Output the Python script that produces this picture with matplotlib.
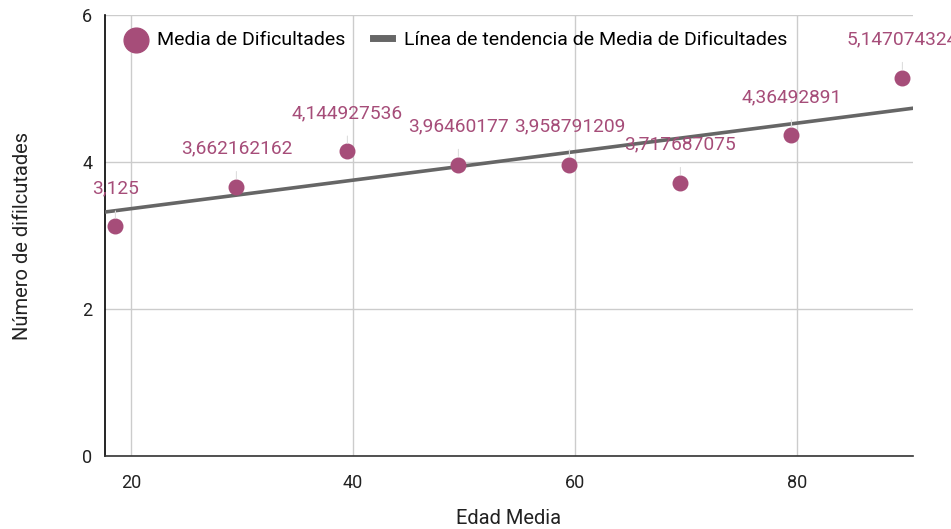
import matplotlib.pyplot as plt
import numpy as np

plt.rcParams["font.family"] = ["Roboto", "DejaVu Sans"]

edad_media = [18.6, 29.5, 39.5, 49.5, 59.5, 69.5, 79.5, 89.5]
media_dificultades = [3.125, 3.662162162, 4.144927536, 3.96460177,
                      3.958791209, 3.717687075, 4.36492891, 5.147074324]

# trend line
trend_slope = 0.0194
trend_intercept = 2.977

x_lim = (17.66, 90.45)
y_lim = (0, 6)
x_ticks = [20, 40, 60, 80]
y_ticks = [0, 2, 4, 6]

POINT_COLOR = "#a64d79"
TREND_COLOR = "#666666"

fig = plt.figure(figsize=(9.51, 5.29), dpi=100, facecolor="white")
ax = fig.add_axes([0.1104, 0.138, 0.8496, 0.8336])

ax.set_xlim(*x_lim)
ax.set_ylim(*y_lim)
ax.set_xticks(x_ticks)
ax.set_yticks(y_ticks)
ax.grid(True, color="#cccccc", linewidth=1)
ax.set_axisbelow(True)
for side in ("top", "right"):
    ax.spines[side].set_visible(False)
ax.spines["left"].set_color("#000000")
ax.spines["left"].set_linewidth(1.2)
ax.spines["bottom"].set_color("#333333")
ax.spines["bottom"].set_linewidth(1.2)
ax.tick_params(length=0, labelsize=13, colors="#222222")
ax.tick_params(axis="x", pad=13)
ax.tick_params(axis="y", pad=9)

tx = np.array(x_lim)
trend_handle, = ax.plot(tx, trend_intercept + trend_slope * tx, color=TREND_COLOR,
                        linewidth=2.6, zorder=3,
                        label="Línea de tendencia de Media de Dificultades")

pts = ax.scatter(edad_media, media_dificultades, s=110, color=POINT_COLOR,
                 zorder=4, label="Media de Dificultades")

for x, y in zip(edad_media, media_dificultades):
    txt = f"{y:.10g}".replace(".", ",")
    ax.annotate(txt, (x, y), xytext=(0, 27.5), textcoords="offset points",
                ha="center", va="center", fontsize=13.8, color=POINT_COLOR,
                annotation_clip=False, zorder=5,
                arrowprops=dict(arrowstyle="-", color="#dddddd", lw=0.8,
                                shrinkA=8, shrinkB=6))

leg = ax.legend(handles=[pts, trend_handle], loc="upper left",
                bbox_to_anchor=(0.009, 0.995), ncol=2, frameon=False,
                fontsize=14, markerscale=1.7, handlelength=1.0,
                handletextpad=0.6, columnspacing=1.4, borderaxespad=0.3)
for line in leg.get_lines():
    line.set_linewidth(5)

ax.set_xlabel("Edad Media", fontsize=14.5, labelpad=12, color="#222222")
ax.set_ylabel("Número de difilcutades", fontsize=14.5, labelpad=36, color="#222222")

fig.savefig("out.png", dpi=100)
